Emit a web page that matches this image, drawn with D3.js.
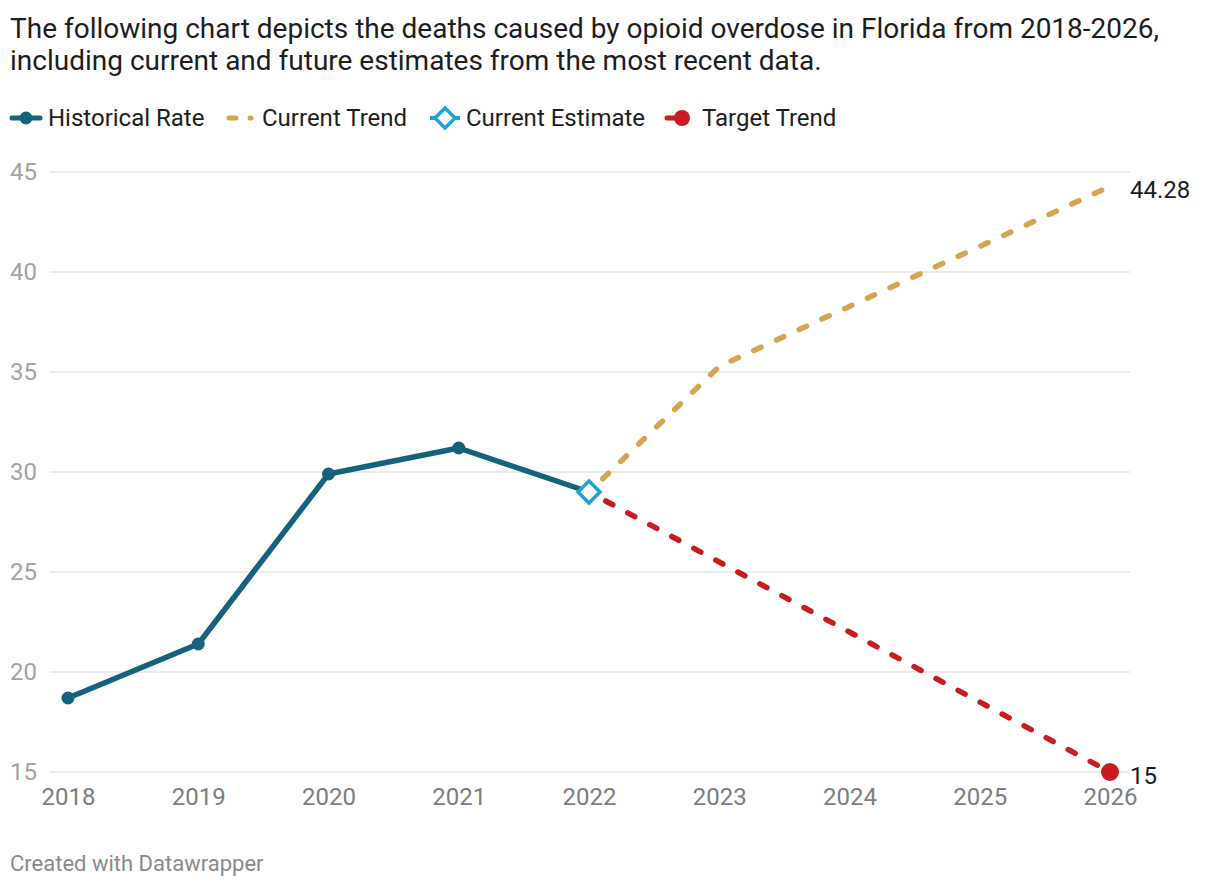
<!DOCTYPE html>
<html>
<head>
<meta charset="utf-8">
<script src="https://cdn.jsdelivr.net/npm/d3@7"></script>
<style>
    body { margin: 0; background: #fff; font-family: Roboto, "Noto Sans", sans-serif; }
    svg text { font-family: Roboto, "Noto Sans", sans-serif; }
</style>
</head>
<body>
<svg id="chart" width="1220" height="888"></svg>
<script>

//  chart values
var years = [2018, 2019, 2020, 2021, 2022, 2023, 2024, 2025, 2026];
var historicalYears = [2018, 2019, 2020, 2021, 2022];
var historicalRate = [18.7, 21.4, 29.9, 31.2, 29.0];
var trendYears = [2022, 2023, 2024, 2025, 2026];
var currentTrend = [29.0, 35.28, 38.28, 41.28, 44.28];
var targetTrend = [29.0, 25.5, 22.0, 18.5, 15.0];
var estimateYear = 2022;
var currentEstimate = 29.0;
var yTicks = [15, 20, 25, 30, 35, 40, 45];

var titleLines = [
    'The following chart depicts the deaths caused by opioid overdose in Florida from 2018-2026,',
    'including current and future estimates from the most recent data.'
];
var legendLabels = ['Historical Rate', 'Current Trend', 'Current Estimate', 'Target Trend'];

var colors = {
    historical: '#16617c',
    current: '#d5a552',
    estimate: '#1ea3d2',
    target: '#c81d1f'
};

var svg = d3.select('#chart');

//  title
svg.append('g').selectAll('text')
    .data(titleLines)
    .enter().append('text')
    .attr('x', 10)
    .attr('y', function (d, i) { return 38 + i * 32; })
    .attr('font-size', 28)
    .attr('fill', '#1d1d1d')
    .text(function (d) { return d; });

//  scales
var x = d3.scalePoint().domain(years).range([68, 1110]);
var y = d3.scaleLinear().domain([15, 45]).range([772, 172]);

//  gridlines + y labels
var grid = svg.append('g');
grid.selectAll('line')
    .data(yTicks)
    .enter().append('line')
    .attr('x1', 50).attr('x2', 1130)
    .attr('y1', function (d) { return y(d); })
    .attr('y2', function (d) { return y(d); })
    .attr('stroke', '#e3e3e3')
    .attr('stroke-width', 1.5);

grid.selectAll('text')
    .data(yTicks)
    .enter().append('text')
    .attr('x', 10)
    .attr('y', function (d) { return y(d) + 8; })
    .attr('font-size', 24)
    .attr('fill', '#a3a3a3')
    .text(function (d) { return d; });

//  x axis labels
var xAxis = d3.axisBottom(x).tickSize(0).tickPadding(16);
svg.append('g')
    .attr('transform', 'translate(0,' + y(15) + ')')
    .call(xAxis)
    .call(function (g) {
        g.select('.domain').remove();
        g.selectAll('text').attr('font-size', 24).attr('fill', '#7d7d7d');
    });

var line = d3.line()
    .x(function (d) { return x(d.year); })
    .y(function (d) { return y(d.value); });

function pairs(yrs, vals) {
    return yrs.map(function (yr, i) { return { year: yr, value: vals[i] }; });
}

var historical = pairs(historicalYears, historicalRate);
var current = pairs(trendYears, currentTrend);
var target = pairs(trendYears, targetTrend);

//  the dashed lines start just outside the diamond
svg.append('path')
    .datum(current)
    .attr('d', line)
    .attr('fill', 'none')
    .attr('stroke', colors.current)
    .attr('stroke-width', 5.5)
    .attr('stroke-linecap', 'round')
    .attr('stroke-dasharray', '8 17')
    .attr('stroke-dashoffset', -19);

svg.append('path')
    .datum(target)
    .attr('d', line)
    .attr('fill', 'none')
    .attr('stroke', colors.target)
    .attr('stroke-width', 5.5)
    .attr('stroke-linecap', 'round')
    .attr('stroke-dasharray', '8 17')
    .attr('stroke-dashoffset', -19);

svg.append('path')
    .datum(historical)
    .attr('d', line)
    .attr('fill', 'none')
    .attr('stroke', colors.historical)
    .attr('stroke-width', 5.5)
    .attr('stroke-linejoin', 'round');

svg.append('g').selectAll('circle')
    .data(historical.slice(0, -1))
    .enter().append('circle')
    .attr('cx', function (d) { return x(d.year); })
    .attr('cy', function (d) { return y(d.value); })
    .attr('r', 6.5)
    .attr('fill', colors.historical);

//  current estimate diamond
var dSize = 11;
svg.append('path')
    .attr('transform', 'translate(' + x(estimateYear) + ',' + y(currentEstimate) + ')')
    .attr('d', 'M0,' + (-dSize) + 'L' + dSize + ',0L0,' + dSize + 'L' + (-dSize) + ',0Z')
    .attr('fill', '#fff')
    .attr('stroke', colors.estimate)
    .attr('stroke-width', 3.5);

//  target end point
var lastTarget = target[target.length - 1];
svg.append('circle')
    .attr('cx', x(lastTarget.year))
    .attr('cy', y(lastTarget.value))
    .attr('r', 9)
    .attr('fill', colors.target);

//  end labels
var lastCurrent = current[current.length - 1];
svg.append('text')
    .attr('x', x(lastCurrent.year) + 20)
    .attr('y', y(lastCurrent.value) + 12)
    .attr('font-size', 24)
    .attr('fill', '#1d1d1d')
    .text(lastCurrent.value);

svg.append('text')
    .attr('x', x(lastTarget.year) + 20)
    .attr('y', y(lastTarget.value) + 12)
    .attr('font-size', 24)
    .attr('fill', '#1d1d1d')
    .text(lastTarget.value);

//  legend
var legend = svg.append('g').attr('transform', 'translate(0,118)');
var legendX = [10, 226, 430, 665];
var textX = [38, 36, 36, 37];

legendLabels.forEach(function (label, i) {
    var g = legend.append('g').attr('transform', 'translate(' + legendX[i] + ',0)');
    if (i === 0) {
        g.append('line').attr('x1', 2).attr('x2', 30).attr('stroke', colors.historical)
            .attr('stroke-width', 5).attr('stroke-linecap', 'round');
        g.append('circle').attr('cx', 16).attr('r', 6.5).attr('fill', colors.historical);
    } else if (i === 1) {
        g.append('line').attr('x1', 3).attr('x2', 10).attr('stroke', colors.current)
            .attr('stroke-width', 5).attr('stroke-linecap', 'round');
        g.append('line').attr('x1', 24).attr('x2', 25).attr('stroke', colors.current)
            .attr('stroke-width', 5).attr('stroke-linecap', 'round');
    } else if (i === 2) {
        g.append('line').attr('x1', 0).attr('x2', 30).attr('stroke', colors.estimate)
            .attr('stroke-width', 4);
        g.append('path')
            .attr('transform', 'translate(15,0)')
            .attr('d', 'M0,-10L10,0L0,10L-10,0Z')
            .attr('fill', '#fff')
            .attr('stroke', colors.estimate)
            .attr('stroke-width', 3.5);
    } else {
        g.append('line').attr('x1', 2).attr('x2', 16).attr('stroke', colors.target)
            .attr('stroke-width', 5).attr('stroke-linecap', 'round');
        g.append('circle').attr('cx', 17).attr('r', 8).attr('fill', colors.target);
    }
    g.append('text')
        .attr('x', textX[i])
        .attr('y', 8)
        .attr('font-size', 24)
        .attr('fill', '#1d1d1d')
        .text(label);
});

//  footer
svg.append('text')
    .attr('x', 10)
    .attr('y', 871)
    .attr('font-size', 22)
    .attr('fill', '#8a8a8a')
    .text('Created with Datawrapper');

</script>
</body>
</html>
